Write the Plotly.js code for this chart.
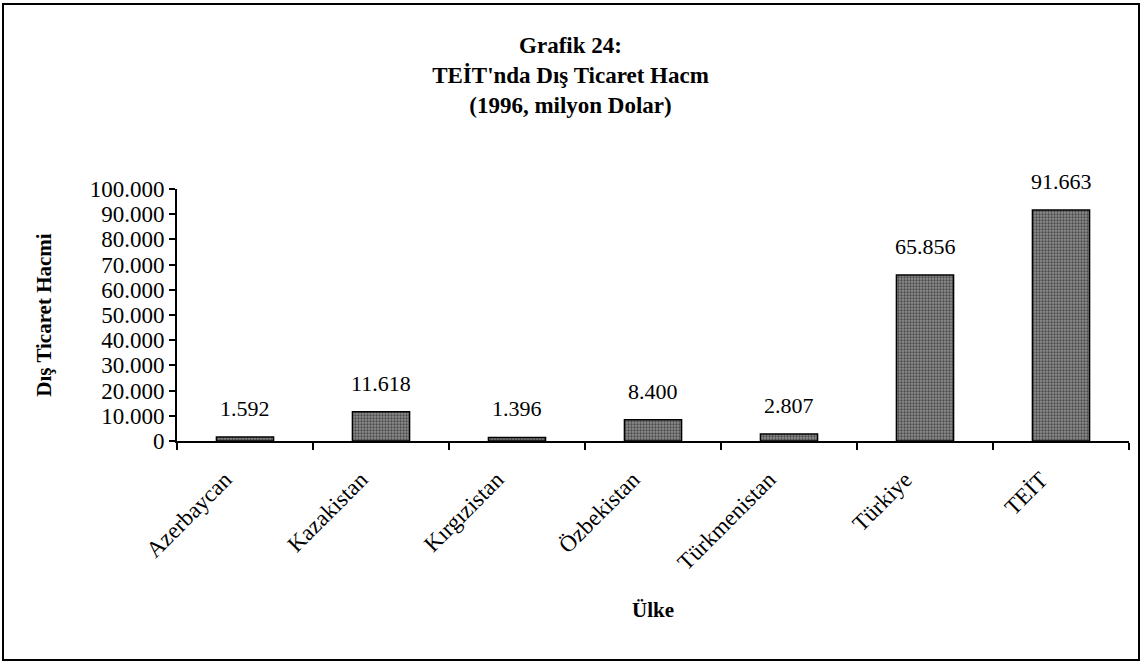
<!DOCTYPE html>
<html><head><meta charset="utf-8">
<script src="https://cdn.plot.ly/plotly-3.0.1.min.js"></script>
<style>
body{margin:0;background:#fff;}
#wrap{position:relative;width:1141px;height:663px;}
#chart{width:1141px;height:663px;}
#frame{position:absolute;left:2px;top:3px;width:1134px;height:654px;border:2px solid #000;pointer-events:none;}
</style></head>
<body>
<div id="wrap"><div id="chart"></div><div id="frame"></div></div>
<script>
const categories = ["Azerbaycan","Kazakistan","Kırgızistan","Özbekistan","Türkmenistan","Türkiye","TEİT"];
const values = [1592, 11618, 1396, 8400, 2807, 65856, 91663];
const labels = ["1.592","11.618","1.396","8.400","2.807","65.856","91.663"];
const tickVals = [0,10000,20000,30000,40000,50000,60000,70000,80000,90000,100000];
const tickText = ["0","10.000","20.000","30.000","40.000","50.000","60.000","70.000","80.000","90.000","100.000"];

const serif = "Liberation Serif, Times New Roman, serif";

const trace = {
  type: "bar",
  x: categories,
  y: values,
  width: 0.42,
  marker: {
    color: "#808080",
    line: {color: "#000", width: 1.5},
    pattern: {shape: ".", fgcolor: "#4a4a4a", bgcolor: "#8e8e8e", size: 3, solidity: 0.45}
  },
  hoverinfo: "skip"
};

const annotations = categories.map((c, i) => ({
  x: c, y: values[i], xref: "x", yref: "y",
  text: labels[i], showarrow: false, yanchor: "bottom", yshift: 14,
  font: {family: serif, size: 22, color: "#000"}
}));

const layout = {
  width: 1141, height: 663,
  margin: {l: 177, r: 12, t: 189, b: 222},
  paper_bgcolor: "#fff", plot_bgcolor: "#fff",
  showlegend: false,
  title: {
    text: "<b>Grafik 24:</b><br><b>TEİT'nda Dış Ticaret Hacm</b><br><b>(1996, milyon Dolar)</b>",
    x: 0.5, xanchor: "center", y: 0.92, yanchor: "top",
    font: {family: serif, size: 23, color: "#000"}
  },
  xaxis: {
    type: "category",
    tickson: "boundaries",
    ticks: "outside", ticklen: 7, tickwidth: 2, tickcolor: "#000",
    showline: true, linecolor: "#000", linewidth: 2,
    showgrid: false, zeroline: false,
    tickangle: -45,
    ticklabelstandoff: 14,
    ticklabelshift: -20,
    tickfont: {family: serif, size: 23, color: "#000"},
    title: {text: "<b>Ülke</b>", font: {family: serif, size: 21, color: "#000"}, standoff: 28}
  },
  yaxis: {
    range: [0, 100000],
    tickvals: tickVals, ticktext: tickText,
    ticks: "outside", ticklen: 6, tickwidth: 2, tickcolor: "#000",
    showline: true, linecolor: "#000", linewidth: 2,
    showgrid: false, zeroline: false,
    tickfont: {family: serif, size: 23, color: "#000"},
    title: {text: "<b>Dış Ticaret Hacmi</b>", font: {family: serif, size: 21, color: "#000"}, standoff: 32}
  },
  annotations: annotations
};

Plotly.newPlot("chart", [trace], layout, {displayModeBar: false, staticPlot: true});
</script>
</body></html>
